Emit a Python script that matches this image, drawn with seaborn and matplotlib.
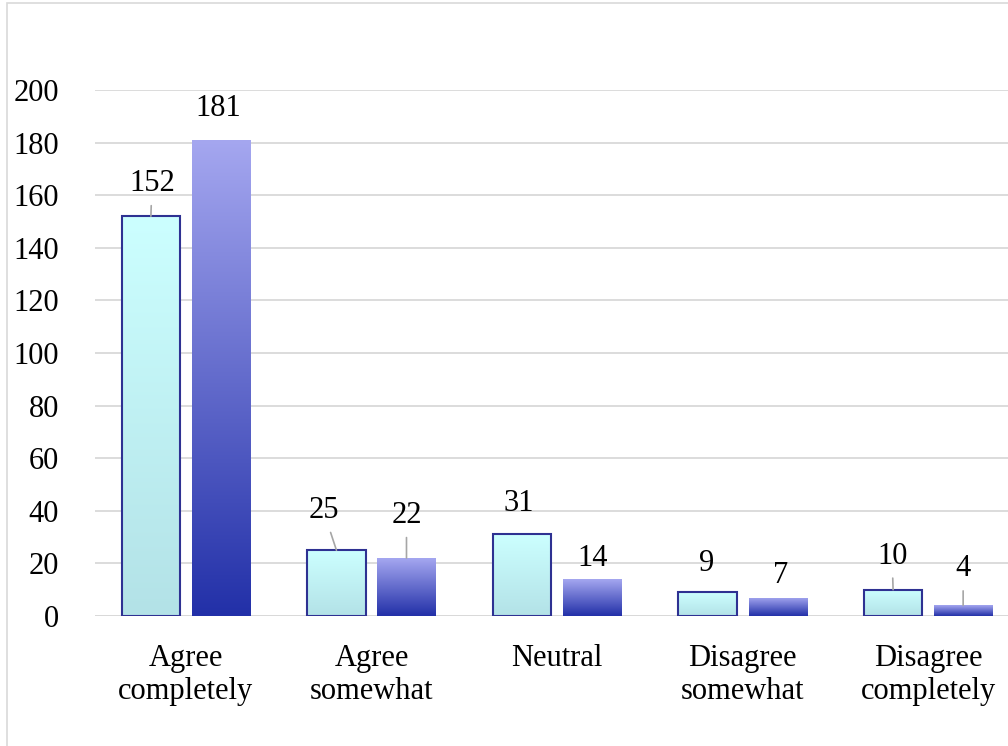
import numpy as np
import pandas as pd
import matplotlib
matplotlib.use("Agg")
import matplotlib.pyplot as plt
from matplotlib.colors import LinearSegmentedColormap
from matplotlib.patches import Rectangle
import seaborn as sns

# data
categories = ["Agree\ncompletely", "Agree\nsomewhat", "Neutral",
              "Disagree\nsomewhat", "Disagree\ncompletely"]
series_a = [152, 25, 31, 9, 10]
series_b = [181, 22, 14, 7, 4]
y_ticks = [0, 20, 40, 60, 80, 100, 120, 140, 160, 180, 200]

df = pd.DataFrame({
    "category": categories * 2,
    "value": series_a + series_b,
    "series": ["A"] * len(categories) + ["B"] * len(categories),
})

sns.set_style("white")
plt.rcParams["font.family"] = ["Liberation Serif", "DejaVu Serif"]

fig = plt.figure(figsize=(10.08, 7.46), dpi=100)
ax = fig.add_axes([95 / 1008, 0.1743, 0.9167, 0.7051])

sns.barplot(data=df, x="category", y="value", hue="series", order=categories,
            width=0.755, gap=0.17, legend=False, ax=ax, zorder=3)

# gradient fills, one per bar, clipped to the bar shape
grad_styles = [
    dict(top="#CCFFFF", bottom="#B3E2E7", edge="#2E3192", lw=1.5),
    dict(top="#A5A7F0", bottom="#2230A8", edge="none", lw=0),
]
for cont, st in zip(ax.containers, grad_styles):
    cmap = LinearSegmentedColormap.from_list("g", [st["bottom"], st["top"]])
    for p in cont.patches:
        x0, y0 = p.get_x(), p.get_y()
        w, h = p.get_width(), p.get_height()
        grad = np.linspace(0, 1, 256).reshape(-1, 1)
        im = ax.imshow(grad, extent=[x0, x0 + w, y0, y0 + h], origin="lower",
                       cmap=cmap, aspect="auto", zorder=2.5, interpolation="bicubic")
        im.set_clip_path(p)
        p.set_facecolor("none")
        p.set_edgecolor(st["edge"])
        p.set_linewidth(st["lw"])

ax.set_xlim(-0.49, 4.49)
ax.set_ylim(0, 200)
ax.set_yticks(y_ticks)
ax.yaxis.grid(True, color="#D9D9D9", lw=1.3, zorder=0)
ax.set_axisbelow(True)
for s in ax.spines.values():
    s.set_visible(False)
ax.axhline(0, color="#D9D9D9", lw=1.3, zorder=1)
ax.tick_params(axis="both", length=0, labelsize=22, labelcolor="black")
ax.tick_params(axis="y", pad=26)
ax.tick_params(axis="x", pad=20)
for t in ax.get_xticklabels():
    t.set_linespacing(1.2)
ax.set_xlabel("")
ax.set_ylabel("")

# data labels: (dx, dy) offsets in pixels from bar top, leader line flag
label_offsets = [
    [(1, 25, True), (-13, 32, True), (-3, 23, False), (-1, 21, False), (-1, 26, True)],
    [(-3, 24, False), (0, 35, True), (1, 13, False), (3, 15, False), (0, 29, True)],
]
for cont, vals, offs in zip(ax.containers, [series_a, series_b], label_offsets):
    for p, v, (dx, dy, lead) in zip(cont.patches, vals, offs):
        xc = p.get_x() + p.get_width() / 2
        arrow = dict(arrowstyle="-", color="#A6A6A6", lw=1.2, shrinkA=3, shrinkB=0) if lead else None
        ax.annotate(str(v), xy=(xc, v), xytext=(dx, dy), textcoords="offset pixels",
                    ha="center", va="baseline", fontsize=22, color="black",
                    arrowprops=arrow, zorder=5)

# chart area border
fig.patches.append(Rectangle((7 / 1008, -0.1), 1.2, 1.1 - 3 / 746,
                             transform=fig.transFigure, fill=False,
                             edgecolor="#D9D9D9", lw=1.2))

fig.savefig("out.png", dpi=100)
